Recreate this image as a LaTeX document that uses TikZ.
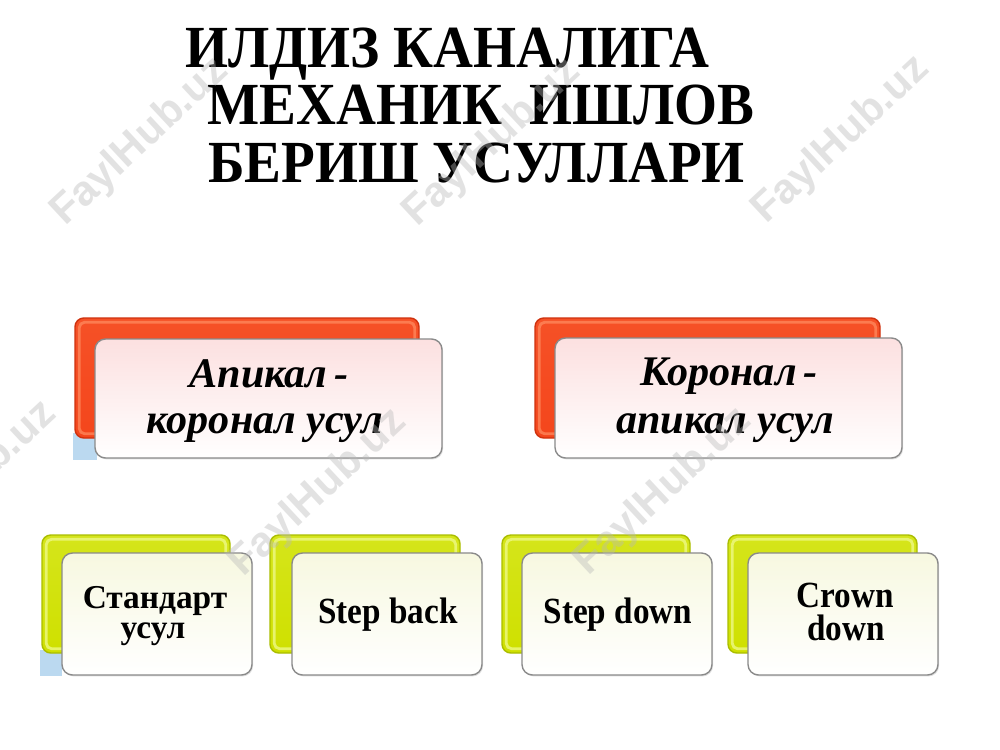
\documentclass[tikz,border=0pt]{standalone}
\usepackage{fontspec}
\setmainfont{Liberation Serif}
\newfontfamily\wmfont{Liberation Sans}
\usetikzlibrary{shadows}
\definecolor{redA}{HTML}{F4461C}
\definecolor{redD}{HTML}{CF320E}
\definecolor{redL}{HTML}{FF8E62}
\definecolor{ygA}{HTML}{CFE000}
\definecolor{ygD}{HTML}{AABD00}
\definecolor{ygL}{HTML}{EDF886}
\definecolor{pinkT}{HTML}{FCE0E0}
\definecolor{creamT}{HTML}{F7F8E0}
\definecolor{edgeg}{HTML}{8A8A8A}
\definecolor{skyb}{HTML}{BBD9F0}
\definecolor{wmg}{HTML}{B8B8B8}
\tikzset{
  box/.style 2 args={minimum width=#1*0.02cm, minimum height=#2*0.02cm, inner sep=0pt},
  backred/.style={draw=redD, line width=0.8pt, rounded corners=5pt, top color=redA!85!redL, bottom color=redA},
  backyg/.style={draw=ygD, line width=0.8pt, rounded corners=5pt, top color=ygA!80!ygL, bottom color=ygA},
  hlred/.style={draw=redL, line width=1.6pt, rounded corners=3pt, opacity=0.7},
  hlyg/.style={draw=ygL, line width=1.6pt, rounded corners=3pt, opacity=0.8},
  frontpink/.style={draw=edgeg, line width=0.8pt, rounded corners=6pt, top color=pinkT, middle color=pinkT!85, bottom color=white,
     drop shadow={shadow xshift=0.6pt, shadow yshift=-0.8pt, opacity=0.25}},
  frontcream/.style={draw=edgeg, line width=0.8pt, rounded corners=6pt, top color=creamT, middle color=creamT!70, bottom color=white,
     drop shadow={shadow xshift=0.6pt, shadow yshift=-0.8pt, opacity=0.25}},
  titletxt/.style={anchor=base west, inner sep=0pt, xscale=0.925, font=\fontsize{34}{40}\selectfont\bfseries},
  toptxt/.style={anchor=base, inner sep=0pt, font=\fontsize{24}{28}\selectfont\bfseries\itshape},
  bottxt/.style={anchor=base, inner sep=0pt, font=\fontsize{19}{23}\selectfont\bfseries},
  engtxt/.style={anchor=base, inner sep=0pt, xscale=0.9, font=\fontsize{21}{24}\selectfont\bfseries},
  wmark/.style={rotate=43, inner sep=0pt, text=wmg, opacity=0.4, font=\wmfont\fontsize{24}{24}\selectfont\bfseries},
  skypatch/.style={fill=skyb, draw=none}
}
\begin{document}
\begin{tikzpicture}[x=0.02cm,y=-0.02cm]
\useasboundingbox (0,0) rectangle (1000,750);
\fill[white] (0,0) rectangle (1000,750);

% title
\node[titletxt] (title1) at (185,68) {ИЛДИЗ КАНАЛИГА};
\node[titletxt] (title2) at (207,125) {МЕХАНИК\ \ ИШЛОВ};
\node[titletxt] (title3) at (208,182) {БЕРИШ УСУЛЛАРИ};

% light blue patches from the slide background
\fill[skypatch] (73,433) rectangle (97,460);
\fill[skypatch] (40,650) rectangle (62,676);

% top row
\node[backred, box={344}{120}] (rb1) at (247,378) {};
\draw[hlred] ([shift={(5,5)}]rb1.north west) rectangle ([shift={(-5,-5)}]rb1.south east);
\node[frontpink, box={347}{119}] (fb1) at (268.5,398.5) {};
\node[toptxt] (t1a) at (269,387) {Апикал\,-};
\node[toptxt] (t1b) at (265,433) {коронал усул};

\node[backred, box={345}{120}] (rb2) at (707.5,378) {};
\draw[hlred] ([shift={(5,5)}]rb2.north west) rectangle ([shift={(-5,-5)}]rb2.south east);
\node[frontpink, box={347}{120}] (fb2) at (728.5,398) {};
\node[toptxt] (t2a) at (729,385) {Коронал\,-};
\node[toptxt] (t2b) at (725,433) {апикал усул};

% bottom row
\node[backyg, box={188}{118}] (yb1) at (136,594) {};
\draw[hlyg] ([shift={(5,5)}]yb1.north west) rectangle ([shift={(-5,-5)}]yb1.south east);
\node[frontcream, box={190}{122}] (cb1) at (157,614) {};
\node[bottxt] (b1a) at (155,608) {Стандарт};
\node[bottxt] (b1b) at (153,638) {усул};

\node[backyg, box={190}{118}] (yb2) at (365,594) {};
\draw[hlyg] ([shift={(5,5)}]yb2.north west) rectangle ([shift={(-5,-5)}]yb2.south east);
\node[frontcream, box={190}{122}] (cb2) at (387,614) {};
\node[engtxt] (b2) at (388,623) {Step back};

\node[backyg, box={188}{118}] (yb3) at (596,594) {};
\draw[hlyg] ([shift={(5,5)}]yb3.north west) rectangle ([shift={(-5,-5)}]yb3.south east);
\node[frontcream, box={190}{122}] (cb3) at (617,614) {};
\node[engtxt] (b3) at (618,623) {Step down};

\node[backyg, box={189}{118}] (yb4) at (822.5,594) {};
\draw[hlyg] ([shift={(5,5)}]yb4.north west) rectangle ([shift={(-5,-5)}]yb4.south east);
\node[frontcream, box={190}{122}] (cb4) at (843,614) {};
\node[engtxt] (b4a) at (845,607) {Crown};
\node[engtxt] (b4b) at (846,640) {down};

% watermarks
\begin{scope}
\clip (0,0) rectangle (1000,750);
\node[wmark] (w1) at (140,142) {FaylHub.uz};
\node[wmark] (w2) at (492,143) {FaylHub.uz};
\node[wmark] (w3) at (841,140) {FaylHub.uz};
\node[wmark] (w4) at (-32,485) {FaylHub.uz};
\node[wmark] (w5) at (318,493) {FaylHub.uz};
\node[wmark] (w6) at (663,492) {FaylHub.uz};
\end{scope}
\end{tikzpicture}
\end{document}
